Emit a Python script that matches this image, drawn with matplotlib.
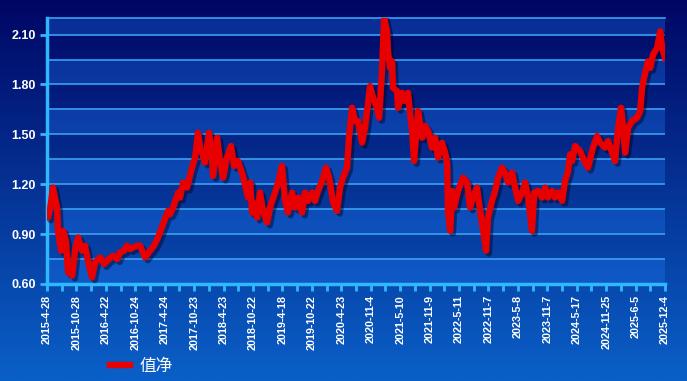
import numpy as np
import matplotlib
matplotlib.use('Agg')
import matplotlib.pyplot as plt
import matplotlib.patheffects as pe

plt.rcParams['font.family'] = ['Liberation Sans', 'Noto Sans CJK SC', 'DejaVu Sans']

# trading-day index (0 = 2015-4-28) and net value
day = [0, 4, 13, 25, 33, 42, 46, 59, 67, 79, 88, 96, 105, 117, 130, 146, 159, 171, 188, 201,
       222, 238, 251, 276, 293, 305, 322, 334, 347, 359, 376, 389, 401, 410, 431, 447, 464, 485, 506, 514,
       527, 548, 556, 569, 585, 606, 619, 631, 640, 648, 660, 677, 690, 694, 711, 723, 736, 752, 769, 782,
       798, 819, 840, 849, 857, 861, 878, 890, 903, 920, 932, 953, 966, 982, 995, 1007, 1024, 1037, 1049, 1066,
       1078, 1091, 1108, 1120, 1133, 1150, 1166, 1179, 1196, 1212, 1225, 1237, 1254, 1262, 1275, 1287, 1300, 1317, 1329, 1342,
       1350, 1363, 1379, 1388, 1400, 1409, 1421, 1425, 1434, 1442, 1446, 1463, 1467, 1484, 1496, 1509, 1517, 1526, 1534, 1551,
       1568, 1580, 1593, 1609, 1622, 1634, 1651, 1664, 1672, 1676, 1685, 1693, 1701, 1718, 1739, 1756, 1768, 1781, 1797, 1810,
       1823, 1835, 1843, 1860, 1873, 1885, 1902, 1914, 1927, 1944, 1956, 1969, 1986, 1998, 2011, 2027, 2036, 2052, 2069, 2082,
       2094, 2111, 2123, 2136, 2153, 2165, 2178, 2186, 2195, 2207, 2228, 2249, 2261, 2282, 2299, 2312, 2332, 2345, 2362, 2374,
       2387, 2399, 2408, 2416, 2429, 2445, 2466, 2479, 2487, 2500, 2512, 2521, 2533, 2550, 2563, 2571, 2583]
nav = [1.04, 1.00, 1.05, 1.18, 1.12, 1.06, 0.92, 0.80, 0.92, 0.86, 0.67, 0.70, 0.65, 0.80, 0.88, 0.80, 0.83, 0.74, 0.64, 0.73,
       0.76, 0.72, 0.74, 0.77, 0.75, 0.79, 0.80, 0.83, 0.81, 0.82, 0.83, 0.83, 0.79, 0.76, 0.80, 0.83, 0.88, 0.96, 1.04, 1.02,
       1.06, 1.15, 1.12, 1.21, 1.18, 1.30, 1.36, 1.51, 1.42, 1.39, 1.33, 1.51, 1.36, 1.25, 1.48, 1.34, 1.24, 1.36, 1.43, 1.31,
       1.34, 1.25, 1.12, 1.21, 1.03, 1.09, 1.00, 1.15, 1.04, 0.97, 1.06, 1.15, 1.21, 1.31, 1.10, 1.03, 1.15, 1.06, 1.12, 1.03,
       1.15, 1.10, 1.15, 1.10, 1.16, 1.22, 1.30, 1.24, 1.09, 1.04, 1.18, 1.24, 1.30, 1.48, 1.66, 1.58, 1.58, 1.45, 1.54, 1.69,
       1.79, 1.72, 1.66, 1.60, 1.88, 2.20, 2.12, 2.00, 1.90, 1.94, 1.78, 1.76, 1.66, 1.75, 1.70, 1.75, 1.63, 1.52, 1.34, 1.64,
       1.48, 1.55, 1.52, 1.42, 1.48, 1.36, 1.45, 1.39, 1.33, 1.04, 0.92, 1.16, 1.06, 1.16, 1.24, 1.21, 1.06, 1.12, 1.18, 1.04,
       0.92, 0.80, 1.00, 1.10, 1.16, 1.24, 1.30, 1.27, 1.21, 1.27, 1.18, 1.10, 1.15, 1.21, 1.12, 0.92, 1.15, 1.16, 1.12, 1.18,
       1.12, 1.16, 1.12, 1.15, 1.10, 1.22, 1.28, 1.38, 1.34, 1.43, 1.40, 1.33, 1.30, 1.42, 1.49, 1.45, 1.42, 1.46, 1.39, 1.34,
       1.54, 1.66, 1.54, 1.39, 1.54, 1.58, 1.60, 1.64, 1.78, 1.87, 1.94, 1.90, 1.98, 2.02, 2.12, 2.02, 1.96]

date_labels = ['2015-4-28', '2015-10-28', '2016-4-22', '2016-10-24', '2017-4-24', '2017-10-23',
               '2018-4-23', '2018-10-22', '2019-4-18', '2019-10-22', '2020-4-23', '2020-11-4',
               '2021-5-10', '2021-11-9', '2022-5-11', '2022-11-7', '2023-5-8', '2023-11-7',
               '2024-5-17', '2024-11-25', '2025-6-5', '2025-12-4']
y_labels = ['0.60', '0.90', '1.20', '1.50', '1.80', '2.10']

fig = plt.figure(figsize=(6.87, 3.81), dpi=100)

# background gradient
bg = fig.add_axes([0, 0, 1, 1], zorder=-10)
top = np.array([0, 6, 100]) / 255
bot = np.array([10, 96, 200]) / 255
t = np.linspace(0, 1, 256)[:, None]
grad = top[None, :] * (1 - t) + bot[None, :] * t
bg.imshow(grad[:, None, :], aspect='auto', extent=[0, 1, 0, 1])
bg.axis('off')

ax = fig.add_axes([0.0684, 0.2546, 0.8996, 0.6982])
ax.set_facecolor('none')

last = day[-1]
ax.set_xlim(0, last)
ax.set_ylim(0.60, 2.20)

# alternating bands and grid lines
levels = np.arange(0.60, 2.21, 0.15)
for i, lv in enumerate(levels):
    if i % 2 == 0:
        ax.axhspan(lv, lv + 0.15, color='#2080ff', alpha=0.3, lw=0, zorder=0)
    if lv > 0.61:
        ax.axhline(lv, color='#3aa0f0', lw=1.2, zorder=1)

line_col = '#e80000'
ax.plot(day, nav, color=line_col, lw=4.6, solid_joinstyle='round', zorder=3,
        path_effects=[pe.SimpleLineShadow(offset=(2, -2), shadow_color='#000020', alpha=0.45),
                      pe.Normal()])

# axes look
tick_col = '#30b8ff'
ax.spines['right'].set_visible(False)
ax.spines['top'].set_color('#3aa0f0')
ax.spines['top'].set_linewidth(1.2)
ax.spines['left'].set_color(tick_col)
ax.spines['left'].set_linewidth(2.5)
ax.spines['bottom'].set_color(tick_col)
ax.spines['bottom'].set_linewidth(2.5)

step = last / (len(date_labels) - 1)
ax.set_xticks([i * step for i in range(len(date_labels))])
ax.set_xticklabels(date_labels, rotation=90, color='white', fontsize=7.8, fontweight='bold')
ax.set_xticks([i * step + step / 2 for i in range(len(date_labels) - 1)], minor=True)
ax.tick_params(axis='x', which='both', direction='out', length=5, width=2, color=tick_col, pad=3)

ax.set_yticks([float(v) for v in y_labels])
ax.set_yticklabels(y_labels, color='white', fontsize=9, fontweight='bold')
ax.tick_params(axis='y', direction='out', length=5, width=2, color=tick_col, pad=3)

leg = fig.legend([plt.Line2D([], [], color=line_col, lw=4.6)], ['值净'],
                 loc='center left', bbox_to_anchor=(0.138, 0.038), frameon=False,
                 handlelength=1.2, handletextpad=0.6,
                 prop={'family': ['Noto Sans CJK SC'], 'size': 12})
for txt in leg.get_texts():
    txt.set_color('white')

fig.savefig('out.png', dpi=100)
